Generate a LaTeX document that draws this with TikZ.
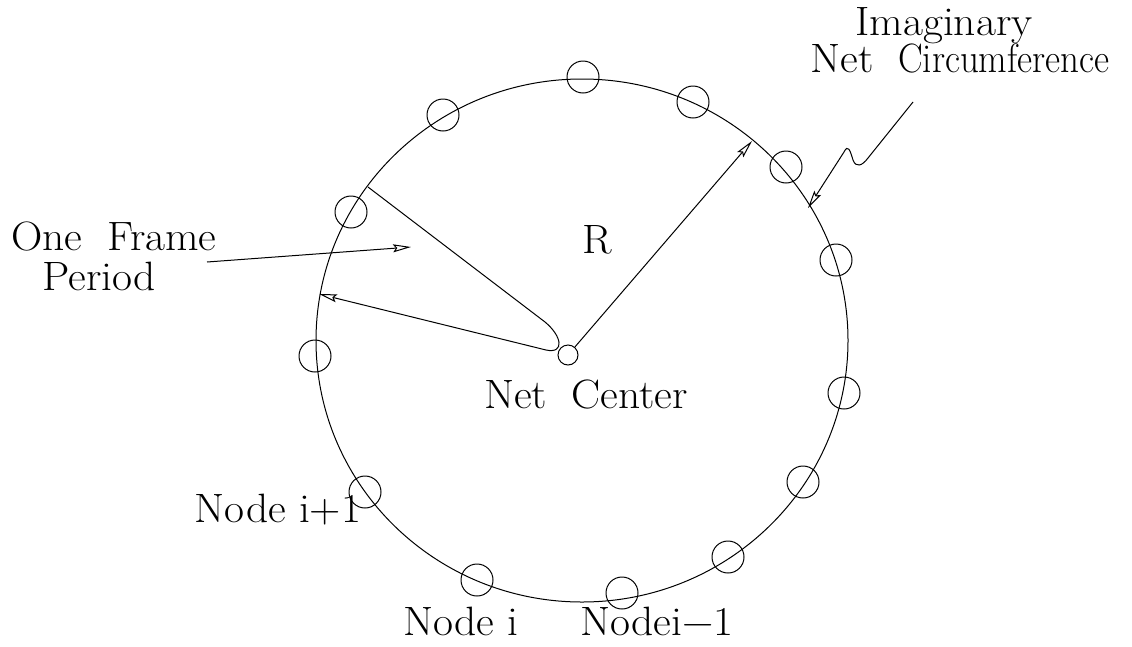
\documentclass[tikz,border=0pt]{standalone}
\usepackage{fontspec}
\setmainfont{Latin Modern Roman}[FakeStretch=1.06]
\usetikzlibrary{arrows.meta}
% wider gap used between words of some labels
\newcommand{\wgap}{\hspace{0.6em}}
\begin{document}
\begin{tikzpicture}[x=1pt,y=-1pt,
  ring/.style={draw, circle, line width=1pt, minimum size=32pt, inner sep=0pt},
  hub/.style={draw, circle, line width=1pt, minimum size=20pt, inner sep=0pt},
  lbl/.style={font=\fontsize{41}{48}\selectfont, inner sep=0pt, anchor=base},
  wire/.style={line width=1pt},
  tip/.style={-{Stealth[open,length=18pt,width=8pt,inset=3pt]}}]
\useasboundingbox (0,0) rectangle (1132,646);

% imaginary net circumference
\draw[wire] (582,340.5) ellipse [x radius=266pt, y radius=261.5pt];

% stations on the circumference
\node[ring] (s1)  at (583,77)  {};
\node[ring] (s2)  at (693,102) {};
\node[ring] (s3)  at (443,115) {};
\node[ring] (s4)  at (786,167) {};
\node[ring] (s5)  at (351,212) {};
\node[ring] (s6)  at (836,260) {};
\node[ring] (s7)  at (315,356) {};
\node[ring] (s8)  at (844,393) {};
\node[ring] (s9)  at (803,482) {};
\node[ring] (s10) at (365,492) {};
\node[ring] (s11) at (728,557) {};
\node[ring] (s12) at (477,580) {};
\node[ring] (s13) at (622,593) {};

% net center
\node[hub] (hub) at (568,355) {};

% points on the circumference used by the arrows
\coordinate (rtip)   at (752,141);
\coordinate (fpA)    at (368,187);
\coordinate (fpB)    at (319,294);
\coordinate (fpFrom) at (207,262);
\coordinate (fpTo)   at (411,247);
\coordinate (icFrom) at (913,102);
\coordinate (icTip)  at (808,208);

% labels
\node[lbl] (imag)   at (944,35)  {Imaginary};
\node[lbl] (circ)   at (960,72)  {Net\wgap\scalebox{0.85}[1]{Circumference}};
\node[lbl] (one)    at (114,250) {One\wgap Frame};
\node[lbl] (period) at (99,290)  {Period};
\node[lbl] (rlab)   at (597,253) {R};
\node[lbl] (nc)     at (586,408) {Net\wgap Center};
\node[lbl] (ni1)    at (278,522) {Node i+1};
\node[lbl] (ni)     at (461,635) {Node i};
\node[lbl] (nim1)   at (657,635) {Nodei−1};

% radius
\draw[wire,tip] (hub) -- (rtip);

% one frame period: out to the rim and back round the loop
\draw[wire,tip] (fpA) -- (545,322) .. controls (562,336) and (565,354) .. (546,350) -- (fpB);
\draw[wire,tip] (fpFrom) -- (fpTo);

% pointer to the circumference
\draw[wire,tip] (icFrom) -- (868,158) .. controls (862,166) and (856,168) .. (853,160)
  .. controls (850,150) and (848,144) .. (844,152) -- (icTip);
\end{tikzpicture}
\end{document}
